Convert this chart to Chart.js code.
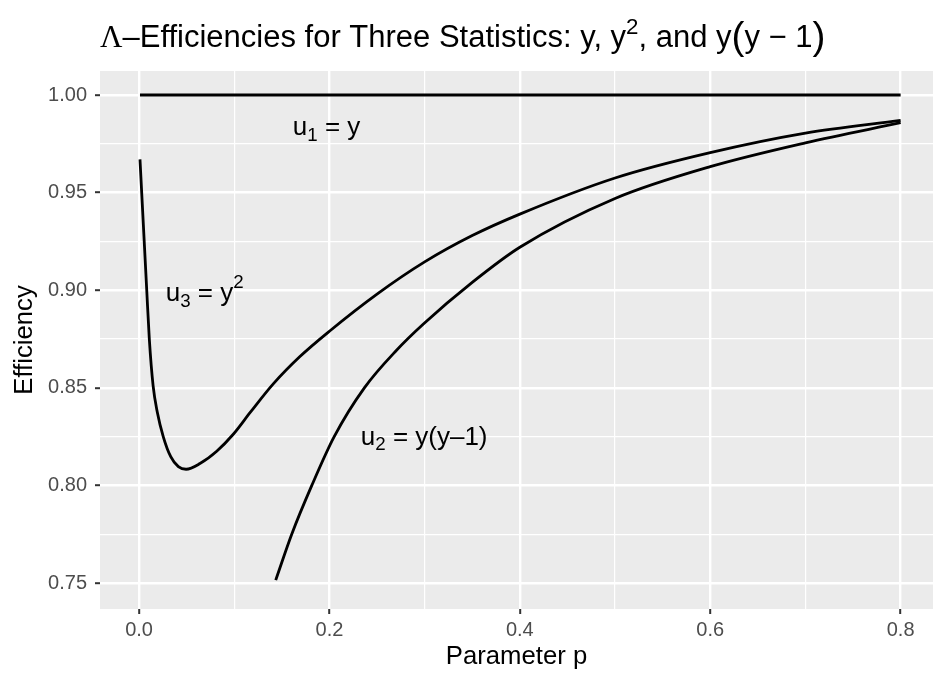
<!DOCTYPE html>
<html>
<head>
<meta charset="utf-8">
<script src="https://cdn.jsdelivr.net/npm/chart.js@4.4.0/dist/chart.umd.min.js"></script>
<style>
  html, body { margin: 0; padding: 0; background: #fff; }
</style>
</head>
<body>
<canvas id="effChart" width="933" height="675"></canvas>
<script>
// u1 = y  (flat at 1)
const pU1 = [0.001, 0.8];
const effU1 = [1.0, 1.0];

// u3 = y^2
const pU3 = [0.001, 0.0081, 0.0108, 0.0148, 0.0192, 0.0255, 0.0333, 0.0413, 0.0494, 0.064, 0.0816, 0.099, 0.117, 0.141, 0.169, 0.2, 0.25, 0.3, 0.35, 0.4, 0.5, 0.6, 0.7, 0.8];
const effU3 = [0.967, 0.900, 0.875, 0.851, 0.8375, 0.8249, 0.8147, 0.8096, 0.8083, 0.8112, 0.8175, 0.8262, 0.8375, 0.852, 0.866, 0.879, 0.898, 0.9145, 0.928, 0.939, 0.9575, 0.9705, 0.9805, 0.987];

// u2 = y(y-1)
const pU2 = [0.1436, 0.1604, 0.1815, 0.205, 0.2367, 0.27, 0.2987, 0.35, 0.4, 0.5, 0.6, 0.7, 0.8];
const effU2 = [0.7515, 0.775, 0.800, 0.825, 0.850, 0.869, 0.8827, 0.904, 0.922, 0.947, 0.9633, 0.9755, 0.9858];

// axis ticks
const xMajor = [0, 0.2, 0.4, 0.6, 0.8];
const xMinor = [0.1, 0.3, 0.5, 0.7];
const xTickLabels = ['0.0', '0.2', '0.4', '0.6', '0.8'];
const yMajor = [0.75, 0.80, 0.85, 0.90, 0.95, 1.00];
const yMinor = [0.775, 0.825, 0.875, 0.925, 0.975];
const yTickLabels = ['0.75', '0.80', '0.85', '0.90', '0.95', '1.00'];

const fontFamily = '"Liberation Sans", Arial, Helvetica, sans-serif';

const toPoints = (xs, ys) => xs.map((x, i) => ({ x: x, y: ys[i] }));
const isMajor = (list, v) => list.some(m => Math.abs(m - v) < 1e-9);

// curve labels (data coords of text centre)
const curveLabels = [
    { x: 0.197, y: 0.983, parts: [{ t: 'u' }, { t: '1', sub: true }, { t: ' = y' }] },
    { x: 0.069, y: 0.898, parts: [{ t: 'u' }, { t: '3', sub: true }, { t: ' = y' }, { t: '2', sup: true }] },
    { x: 0.2995, y: 0.8243, parts: [{ t: 'u' }, { t: '2', sub: true }, { t: ' = y(y\u20131)' }] }
];

function drawParts(ctx, parts, x, y, size, center) {
    let total = 0;
    parts.forEach(p => {
        const s = (p.sub || p.sup) ? size * 0.72 : (p.scale ? size * p.scale : size);
        p._font = `${s}px ${p.family || fontFamily}`;
        ctx.font = p._font;
        p._w = ctx.measureText(p.t).width;
        total += p._w;
    });
    let cx = center ? x - total / 2 : x;
    parts.forEach(p => {
        ctx.font = p._font;
        let dy = p.dy || 0;
        if (p.sub) dy = size * 0.28;
        if (p.sup) dy = -size * 0.42;
        ctx.fillText(p.t, cx, y + dy);
        cx += p._w;
    });
}

const panelPlugin = {
    id: 'panel',
    beforeDraw(chart) {
        const { ctx, chartArea } = chart;
        ctx.save();
        ctx.fillStyle = '#ffffff';
        ctx.fillRect(0, 0, chart.width, chart.height);
        ctx.fillStyle = '#EBEBEB';
        ctx.fillRect(chartArea.left, chartArea.top, chartArea.right - chartArea.left, chartArea.bottom - chartArea.top);
        ctx.restore();
    },
    afterDatasetsDraw(chart) {
        const { ctx, scales } = chart;
        ctx.save();
        ctx.fillStyle = '#000000';
        ctx.textBaseline = 'middle';
        curveLabels.forEach(l => {
            drawParts(ctx, l.parts, scales.x.getPixelForValue(l.x), scales.y.getPixelForValue(l.y), 26, true);
        });
        ctx.restore();
    },
    afterDraw(chart) {
        const { ctx, chartArea } = chart;
        ctx.save();
        ctx.fillStyle = '#000000';
        ctx.textBaseline = 'alphabetic';
        drawParts(ctx, [
            { t: '\u039B', family: '"Liberation Serif", "Times New Roman", serif' },
            { t: '\u2013Efficiencies for Three Statistics: y, y' },
            { t: '2', sup: true },
            { t: ', and y' },
            { t: '(', scale: 1.25, dy: 2 },
            { t: 'y \u2212 1' },
            { t: ')', scale: 1.25, dy: 2 }
        ], chartArea.left, 47, 31, false);
        ctx.restore();
    }
};

const lineStyle = {
    borderColor: '#000000',
    borderWidth: 2.8,
    pointRadius: 0,
    fill: false,
    cubicInterpolationMode: 'monotone'
};

const ctx = document.getElementById('effChart').getContext('2d');
const chart = new Chart(ctx, {
    type: 'line',
    data: {
        datasets: [
            { label: 'u1', data: toPoints(pU1, effU1), ...lineStyle },
            { label: 'u3', data: toPoints(pU3, effU3), ...lineStyle },
            { label: 'u2', data: toPoints(pU2, effU2), ...lineStyle }
        ]
    },
    options: {
        responsive: false,
        animation: false,
        devicePixelRatio: 1,
        layout: { padding: { top: 71, left: 0, right: 0, bottom: 0 } },
        plugins: {
            legend: { display: false },
            tooltip: { enabled: false }
        },
        scales: {
            x: {
                type: 'linear',
                min: -0.041,
                max: 0.834,
                afterBuildTicks: axis => {
                    axis.ticks = xMajor.concat(xMinor).sort((a, b) => a - b).map(v => ({ value: v }));
                },
                afterFit: axis => { axis.height = 66; },
                ticks: {
                    autoSkip: false,
                    maxRotation: 0,
                    padding: 4,
                    color: '#4D4D4D',
                    font: { family: fontFamily, size: 20 },
                    callback: value => {
                        const i = xMajor.findIndex(m => Math.abs(m - value) < 1e-9);
                        return i >= 0 ? xTickLabels[i] : '';
                    }
                },
                grid: {
                    color: '#ffffff',
                    lineWidth: c => isMajor(xMajor, c.tick.value) ? 2.4 : 1.2,
                    tickColor: c => isMajor(xMajor, c.tick.value) ? '#333333' : 'rgba(0,0,0,0)',
                    tickWidth: 2,
                    tickLength: 5
                },
                border: { display: false },
                title: {
                    display: true,
                    text: 'Parameter p',
                    color: '#000000',
                    font: { family: fontFamily, size: 25.7 },
                    padding: { top: 0, bottom: 3 }
                }
            },
            y: {
                type: 'linear',
                min: 0.7367,
                max: 1.0123,
                afterBuildTicks: axis => {
                    axis.ticks = yMajor.concat(yMinor).sort((a, b) => a - b).map(v => ({ value: v }));
                },
                afterFit: axis => { axis.width = 100; },
                ticks: {
                    autoSkip: false,
                    padding: 8,
                    color: '#4D4D4D',
                    font: { family: fontFamily, size: 20 },
                    callback: value => {
                        const i = yMajor.findIndex(m => Math.abs(m - value) < 1e-9);
                        return i >= 0 ? yTickLabels[i] : '';
                    }
                },
                grid: {
                    color: '#ffffff',
                    lineWidth: c => isMajor(yMajor, c.tick.value) ? 2.4 : 1.2,
                    tickColor: c => isMajor(yMajor, c.tick.value) ? '#333333' : 'rgba(0,0,0,0)',
                    tickWidth: 2,
                    tickLength: 5
                },
                border: { display: false },
                title: {
                    display: true,
                    text: 'Efficiency',
                    color: '#000000',
                    font: { family: fontFamily, size: 25.7 },
                    padding: { top: 9, bottom: 0 }
                }
            }
        }
    },
    plugins: [panelPlugin]
});
</script>
</body>
</html>
